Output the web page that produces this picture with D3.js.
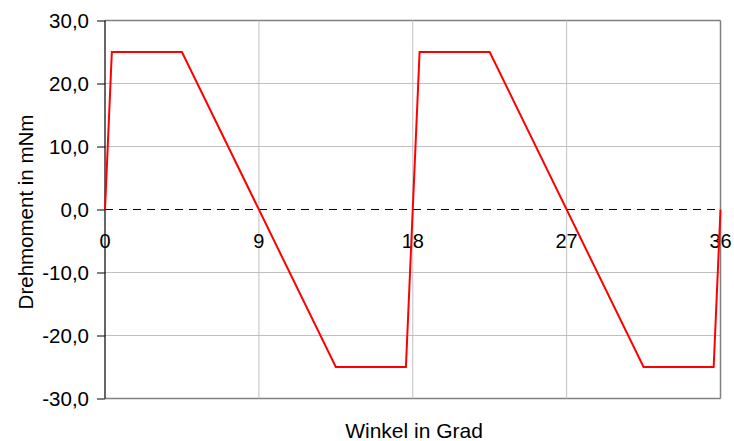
<!DOCTYPE html>
<html>
<head>
<meta charset="utf-8">
<script src="https://cdn.jsdelivr.net/npm/d3@7"></script>
<style>
body { margin: 0; background: #fff; }
text { font-family: "Liberation Sans", Arial, sans-serif; fill: #000; }
</style>
</head>
<body>
<svg id="chart" width="734" height="441"></svg>
<script>
// Winkel (Grad) und Drehmoment (mNm)
var angles = [0, 0.4, 4.5, 13.5, 17.6, 18.4, 22.5, 31.5, 35.6, 36];
var torque = [0, 25, 25, -25, -25, 25, 25, -25, -25, 0];
var xTicks = [0, 9, 18, 27, 36];
var yTicks = [-30, -20, -10, 0, 10, 20, 30];

var plotLeft = 105, plotRight = 720.5, plotTop = 20.5, plotBottom = 398.5;

var svg = d3.select("#chart");

var x = d3.scaleLinear().domain([0, 36]).range([plotLeft, plotRight]);
var y = d3.scaleLinear().domain([-30, 30]).range([plotBottom, plotTop]);

var fmt = function(d) { return d3.format(".1f")(d).replace(".", ",").replace("−", "-"); };

// horizontal grid
svg.append("g").selectAll("line")
  .data(yTicks.filter(function(d) { return d !== 0; }))
  .enter().append("line")
  .attr("x1", plotLeft).attr("x2", plotRight)
  .attr("y1", function(d) { return y(d); })
  .attr("y2", function(d) { return y(d); })
  .style("stroke", function(d) { return (d === 30 || d === -30) ? "#808080" : "#c0c0c0"; })
  .style("stroke-width", function(d) { return (d === 30 || d === -30) ? 1.5 : 1; });

// vertical grid
svg.append("g").selectAll("line")
  .data(xTicks.filter(function(d) { return d !== 0; }))
  .enter().append("line")
  .attr("y1", plotTop).attr("y2", plotBottom)
  .attr("x1", function(d) { return x(d); })
  .attr("x2", function(d) { return x(d); })
  .style("stroke", function(d) { return d === 36 ? "#808080" : "#c0c0c0"; })
  .style("stroke-width", function(d) { return d === 36 ? 1.5 : 1; });

// y axis
var yAxis = d3.axisLeft(y).tickValues(yTicks).tickSize(8).tickPadding(8).tickFormat(fmt);
var gy = svg.append("g")
  .attr("transform", "translate(" + plotLeft + ",0)")
  .call(yAxis);
gy.select(".domain").remove();
gy.append("line").attr("x1", 0).attr("x2", 0).attr("y1", plotTop).attr("y2", plotBottom)
  .style("stroke", "#000").style("stroke-width", 1.2);
gy.selectAll(".tick line").style("stroke", "#000");
gy.selectAll("text").style("font-size", "20.5px").style("font-family", "Liberation Sans, Arial, sans-serif");

// x axis on zero line (dashed)
svg.append("line")
  .attr("x1", plotLeft).attr("x2", plotRight)
  .attr("y1", y(0)).attr("y2", y(0))
  .style("stroke", "#000").style("stroke-dasharray", "8,6");

svg.append("g").selectAll("text")
  .data(xTicks)
  .enter().append("text")
  .attr("x", function(d) { return x(d); })
  .attr("y", y(0) + 38)
  .attr("text-anchor", "middle")
  .style("font-size", "20px")
  .text(function(d) { return d; });

// curve
var line = d3.line()
  .x(function(d) { return x(d[0]); })
  .y(function(d) { return y(d[1]); });

svg.append("path")
  .datum(d3.zip(angles, torque))
  .attr("d", line)
  .style("fill", "none")
  .style("stroke", "#ff0000")
  .style("stroke-width", 2);

// axis titles
svg.append("text")
  .attr("x", 414)
  .attr("y", 438)
  .attr("text-anchor", "middle")
  .style("font-size", "21px")
  .text("Winkel in Grad");

svg.append("text")
  .attr("transform", "translate(33,212) rotate(-90)")
  .attr("text-anchor", "middle")
  .style("font-size", "20.5px")
  .text("Drehmoment in mNm");
</script>
</body>
</html>
